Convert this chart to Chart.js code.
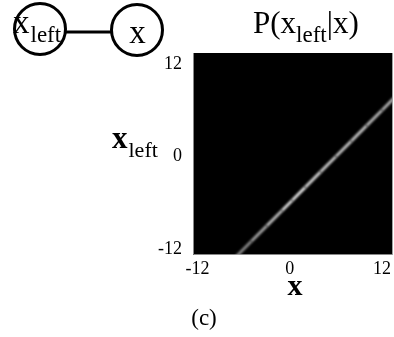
<!DOCTYPE html>
<html>
<head>
<meta charset="utf-8">
<script src="https://cdn.jsdelivr.net/npm/chart.js@4/dist/chart.umd.min.js"></script>
<style>
  html, body { margin: 0; padding: 0; background: #fff; }
  canvas { display: block; }
</style>
</head>
<body>
<canvas id="c" width="394" height="337"></canvas>
<script>
// Ridge of the conditional density P(x_left | x): centre line and its brightness (0-255)
const ridgeX     = [-7.0, -5.0, -3.0, -1.0, 0.3, 2.0, 4.0, 6.0, 8.0, 10.0, 12.0, 13.6];
const ridgeY     = [-13.0, -11.0, -9.0, -7.0, -5.7, -4.0, -2.0, 0.0, 2.0, 4.0, 6.0, 7.6];
const ridgeLevel = [125, 145, 170, 195, 240, 200, 205, 185, 195, 180, 175, 170];

// Axis ticks
const xTicks = [-12, 0, 12];
const yTicks = [-12, 0, 12];

const SERIF = '"Liberation Serif", "Times New Roman", serif';

function gray(v) {
  const g = Math.round(v);
  return `rgb(${g},${g},${g})`;
}

// Draw a symbol with a subscript; returns the end x
function drawSub(ctx, main, sub, x, base, mainFont, subFont, subBase, gap) {
  ctx.font = mainFont;
  ctx.fillText(main, x, base);
  const w = ctx.measureText(main).width + (gap || 0);
  ctx.font = subFont;
  ctx.fillText(sub, x + w, subBase);
  return x + w + ctx.measureText(sub).width;
}

const decor = {
  id: 'decor',
  beforeDraw(chart) {
    const { ctx, chartArea: a } = chart;
    ctx.save();
    ctx.fillStyle = '#fff';
    ctx.fillRect(0, 0, chart.width, chart.height);
    ctx.fillStyle = '#000';
    ctx.fillRect(a.left, a.top, a.right - a.left, a.bottom - a.top);
    ctx.restore();
  },
  beforeDatasetDraw(chart) {
    chart.ctx.save();
    chart.ctx.filter = 'blur(1.1px)';
  },
  afterDatasetDraw(chart) {
    chart.ctx.restore();
  },
  afterDraw(chart) {
    const { ctx, chartArea: a } = chart;
    ctx.save();
    // thin light edge on left and bottom of the image
    ctx.strokeStyle = 'rgba(170,170,170,0.8)';
    ctx.lineWidth = 1;
    ctx.beginPath();
    ctx.moveTo(a.left + 0.5, a.top);
    ctx.lineTo(a.left + 0.5, a.bottom - 0.5);
    ctx.lineTo(a.right, a.bottom - 0.5);
    ctx.stroke();

    ctx.fillStyle = '#000';
    ctx.strokeStyle = '#000';
    ctx.textAlign = 'left';
    ctx.textBaseline = 'alphabetic';

    // graphical model: x_left — x
    ctx.lineWidth = 3;
    ctx.beginPath();
    ctx.moveTo(65, 32);
    ctx.lineTo(112, 32);
    ctx.stroke();
    ctx.beginPath();
    ctx.arc(40, 29, 25.5, 0, Math.PI * 2);
    ctx.stroke();
    ctx.beginPath();
    ctx.arc(137, 30, 25.5, 0, Math.PI * 2);
    ctx.stroke();
    drawSub(ctx, 'x', 'left', 13, 33, `33px ${SERIF}`, `23px ${SERIF}`, 42, 1);
    ctx.font = `33px ${SERIF}`;
    ctx.textAlign = 'center';
    ctx.fillText('x', 137.5, 43);
    ctx.textAlign = 'left';

    // title
    let end = drawSub(ctx, 'P(x', 'left', 253, 33, `31px ${SERIF}`, `23px ${SERIF}`, 42);
    ctx.font = `31px ${SERIF}`;
    ctx.fillText('|x)', end, 33);

    // y-axis title
    drawSub(ctx, 'x', 'left', 112, 148, `bold 31px ${SERIF}`, `22px ${SERIF}`, 157, 1);

    // x-axis title
    ctx.textAlign = 'center';
    ctx.font = `bold 30px ${SERIF}`;
    ctx.fillText('x', 295, 295);

    // panel label
    ctx.font = `23px ${SERIF}`;
    ctx.fillText('(c)', 204, 325);
    ctx.restore();
  }
};

const tickFont = { family: SERIF, size: 18 };

new Chart(document.getElementById('c'), {
  type: 'scatter',
  data: {
    datasets: [{
      data: ridgeX.map((x, i) => ({ x, y: ridgeY[i] })),
      showLine: true,
      pointRadius: 0,
      borderWidth: 3,
      borderColor: gray(190),
      segment: {
        borderColor: c => gray((ridgeLevel[c.p0DataIndex] + ridgeLevel[c.p1DataIndex]) / 2)
      },
      clip: 0
    }]
  },
  options: {
    responsive: false,
    animation: false,
    events: [],
    layout: { padding: { top: 53, left: 0, right: 0, bottom: 0 } },
    plugins: { legend: { display: false }, tooltip: { enabled: false } },
    scales: {
      x: {
        type: 'linear',
        min: -12.6,
        max: 13.35,
        afterBuildTicks: s => { s.ticks = xTicks.map(v => ({ value: v })); },
        afterFit: s => { s.height = 82; },
        grid: { display: false, drawTicks: false },
        border: { display: false },
        ticks: {
          padding: 3, color: '#000', font: tickFont,
          maxRotation: 0, autoSkip: false, callback: v => String(v)
        }
      },
      y: {
        type: 'linear',
        min: -12.78,
        max: 13.43,
        afterBuildTicks: s => { s.ticks = yTicks.map(v => ({ value: v })); },
        afterFit: s => { s.width = 193; },
        grid: { display: false, drawTicks: false },
        border: { display: false },
        ticks: {
          padding: 11, color: '#000', font: tickFont,
          autoSkip: false, callback: v => String(v)
        }
      }
    }
  },
  plugins: [decor]
});
</script>
</body>
</html>
